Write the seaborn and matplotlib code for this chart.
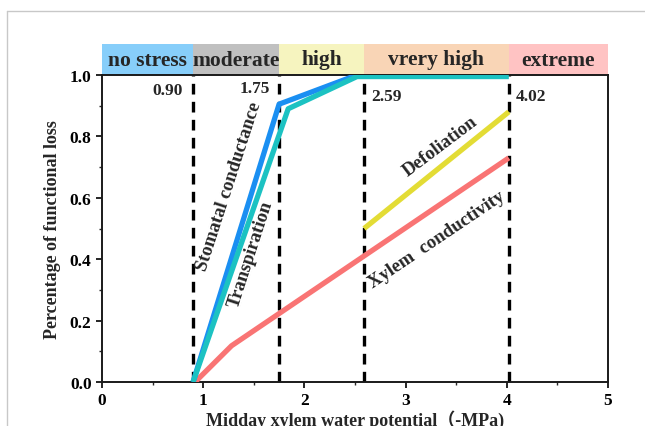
import matplotlib
matplotlib.use("Agg")
import matplotlib.pyplot as plt
from matplotlib.patches import Rectangle
from matplotlib.lines import Line2D
from matplotlib.ticker import MultipleLocator
import seaborn as sns
import pandas as pd

# Functional-loss curves against midday xylem water potential (-MPa)
stomatal_x = [0.90, 1.75, 2.52]
stomatal_y = [0.00, 0.905, 1.00]
transp_x = [0.90, 1.84, 2.52, 4.02]
transp_y = [0.00, 0.89, 0.995, 0.995]
xylem_x = [0.92, 1.28, 4.02]
xylem_y = [0.00, 0.118, 0.73]
defol_x = [2.59, 4.02]
defol_y = [0.50, 0.88]

# Stress thresholds and stress classes
thresholds = [0.90, 1.75, 2.59, 4.02]
threshold_labels = ["0.90", "1.75", "2.59", "4.02"]
band_edges = [0.0, 0.90, 1.75, 2.59, 4.02, 5.0]
band_names = ["no stress", "moderate", "high", "vrery high", "extreme"]
band_colors = ["#87CEFA", "#C0C0C0", "#F6F4BF", "#F9D5B6", "#FFC3C3"]

frames = []
for name, xs, ys in [("Stomatal conductance", stomatal_x, stomatal_y),
                     ("Transpiration", transp_x, transp_y),
                     ("Xylem conductivity", xylem_x, xylem_y),
                     ("Defoliation", defol_x, defol_y)]:
    frames.append(pd.DataFrame({"psi": xs, "loss": ys, "trait": name}))
df = pd.concat(frames, ignore_index=True)

palette = {"Stomatal conductance": "#1A8FF2",
           "Transpiration": "#1CC2C2",
           "Xylem conductivity": "#F97474",
           "Defoliation": "#E3DC35"}

sns.set_style("ticks")
plt.rcParams["font.family"] = ["Liberation Serif", "Noto Sans CJK SC"]
plt.rcParams["font.weight"] = "bold"

fig = plt.figure(figsize=(6.45, 4.27), dpi=100)
ax = fig.add_axes([102 / 645, 1 - 383 / 427, 506 / 645, 307 / 427])

# light outer frame
fig.add_artist(Line2D([7 / 645, 7 / 645], [0, 1 - 12 / 427], transform=fig.transFigure,
                      color="#C8C8C8", lw=1.0))
fig.add_artist(Line2D([7 / 645, 1], [1 - 12 / 427, 1 - 12 / 427], transform=fig.transFigure,
                      color="#C8C8C8", lw=1.0))

for th in thresholds:
    ax.plot([th, th], [0, 1.0], color="black", lw=2.4, ls=(0, (3.2, 2.2)), zorder=2)

sns.lineplot(data=df, x="psi", y="loss", hue="trait", palette=palette,
             hue_order=["Xylem conductivity", "Defoliation", "Stomatal conductance", "Transpiration"],
             linewidth=3.8, sort=False, estimator=None, legend=False, ax=ax, zorder=3)
for line in ax.lines:
    line.set_solid_capstyle("butt")

ax.set_xlim(0, 5)
ax.set_ylim(0, 1.0)
ax.xaxis.set_major_locator(MultipleLocator(1))
ax.xaxis.set_minor_locator(MultipleLocator(0.5))
ax.yaxis.set_major_locator(MultipleLocator(0.2))
ax.yaxis.set_minor_locator(MultipleLocator(0.1))
ax.set_yticks([0.0, 0.2, 0.4, 0.6, 0.8, 1.0])
ax.set_yticklabels(["0.0", "0.2", "0.4", "0.6", "0.8", "1.0"])
ax.tick_params(axis="both", which="major", direction="out", length=4, width=1.2,
               labelsize=12.5, colors="black")
ax.tick_params(axis="both", which="minor", direction="out", length=2.5, width=1.0)
for lab in ax.get_xticklabels() + ax.get_yticklabels():
    lab.set_fontweight("bold")
for sp in ax.spines.values():
    sp.set_linewidth(1.4)
    sp.set_color("#1a1a1a")

ax.set_xlabel("Midday xylem water potential（-MPa)", fontsize=13, fontweight="bold", labelpad=1)
ax.set_ylabel("Percentage of functional loss", fontsize=13, fontweight="bold", labelpad=6)

# stress-class bands above the plotting area
band_h = 31 / 307
for lo, hi, name, col in zip(band_edges[:-1], band_edges[1:], band_names, band_colors):
    ax.add_patch(Rectangle((lo, 1.0), hi - lo, band_h, facecolor=col, edgecolor="none",
                           clip_on=False, zorder=1))
    ax.text((lo + hi) / 2, 1.0 + band_h / 2, name, ha="center", va="center",
            fontsize=15.5, fontweight="bold", clip_on=False)

# threshold values
ax.text(0.80, 0.95, threshold_labels[0], ha="right", va="center", fontsize=12.5, fontweight="bold")
ax.text(1.66, 0.958, threshold_labels[1], ha="right", va="center", fontsize=12.5, fontweight="bold")
ax.text(2.66, 0.93, threshold_labels[2], ha="left", va="center", fontsize=12.5, fontweight="bold")
ax.text(4.09, 0.93, threshold_labels[3], ha="left", va="center", fontsize=12.5, fontweight="bold")

# curve names along the lines
ax.text(1.255, 0.64, "Stomatal conductance", rotation=72, ha="center", va="center",
        fontsize=13.5, fontweight="bold", rotation_mode="anchor")
ax.text(1.47, 0.42, "Transpiration", rotation=72, ha="center", va="center",
        fontsize=13.5, fontweight="bold", rotation_mode="anchor")
ax.text(3.34, 0.77, "Defoliation", rotation=37, ha="center", va="center",
        fontsize=13.5, fontweight="bold", rotation_mode="anchor")
ax.text(3.31, 0.465, "Xylem  conductivity", rotation=34, ha="center", va="center",
        fontsize=13.5, fontweight="bold", rotation_mode="anchor")

fig.savefig("out.png", dpi=100)
